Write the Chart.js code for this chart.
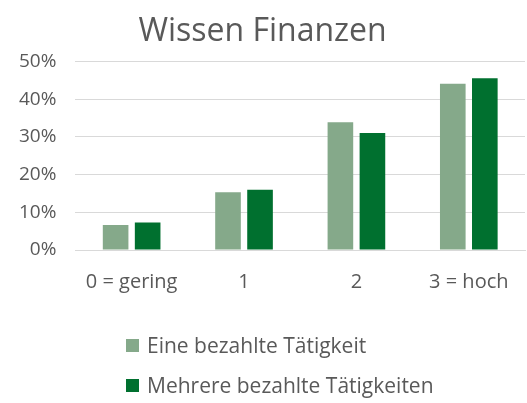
<!DOCTYPE html>
<html>
<head>
<meta charset="utf-8">
<script src="https://cdn.jsdelivr.net/npm/chart.js@4"></script>
<style>
  html, body { margin: 0; padding: 0; background: #fff; }
  #wrap { position: relative; width: 527px; height: 403px; }
  #legend { position: absolute; left: 126px; top: 332px; font-family: "Open Sans", sans-serif; font-size: 21px; color: #595959; }
  #legend div { display: flex; align-items: center; height: 26px; margin-bottom: 14px; }
  #legend span.box { width: 13px; height: 13px; margin-right: 8px; display: inline-block; }
</style>
</head>
<body>
<div id="wrap">
  <canvas id="wissenChart" width="527" height="403"></canvas>
  <div id="legend"></div>
</div>
<script>
// Chart data
const categories = ['0 = gering', '1', '2', '3 = hoch'];
const seriesNames = ['Eine bezahlte Tätigkeit', 'Mehrere bezahlte Tätigkeiten'];
const eineValues = [6.6, 15.3, 33.9, 44.1];
const mehrereValues = [7.3, 16.0, 31.0, 45.5];
const yTicks = [0, 10, 20, 30, 40, 50];
const colors = ['#85A98A', '#00702F'];

const ctx = document.getElementById('wissenChart').getContext('2d');

const wissenChart = new Chart(ctx, {
    type: 'bar',
    data: {
        labels: categories,
        datasets: [{
            label: seriesNames[0],
            data: eineValues,
            backgroundColor: colors[0],
            barPercentage: 0.8,
            categoryPercentage: 0.57,
        }, {
            label: seriesNames[1],
            data: mehrereValues,
            backgroundColor: colors[1],
            barPercentage: 0.8,
            categoryPercentage: 0.57,
        }]
    },
    options: {
        responsive: false,
        animation: false,
        layout: {
            padding: { left: 0, right: 2, top: 0, bottom: 97 },
        },
        scales: {
            x: {
                grid: {
                    display: false,
                },
                border: {
                    color: '#d9d9d9',
                },
                ticks: {
                    color: '#595959',
                    padding: 12,
                    font: { family: 'Open Sans', size: 20 },
                },
            },
            y: {
                min: 0,
                max: yTicks[yTicks.length - 1],
                afterBuildTicks: (axis) => {
                    axis.ticks = yTicks.map(v => ({ value: v }));
                },
                grid: {
                    color: '#d9d9d9',
                    drawTicks: false,
                },
                border: {
                    display: false,
                },
                ticks: {
                    color: '#595959',
                    padding: 19,
                    font: { family: 'Open Sans', size: 19 },
                    callback: (value) => value + '%',
                },
            },
        },
        plugins: {
            title: {
                display: true,
                text: 'Wissen Finanzen',
                color: '#595959',
                font: { family: 'Open Sans', size: 32, weight: 'normal' },
                padding: { top: 13, bottom: 10 },
            },
            legend: {
                display: false,
            },
            tooltip: {
                enabled: false,
            },
        },
    },
});

// HTML legend, one item per row
const legendEl = document.getElementById('legend');
seriesNames.forEach((name, i) => {
    const row = document.createElement('div');
    row.innerHTML = '<span class="box" style="background:' + colors[i] + '"></span>' + name;
    legendEl.appendChild(row);
});
</script>
</body>
</html>
